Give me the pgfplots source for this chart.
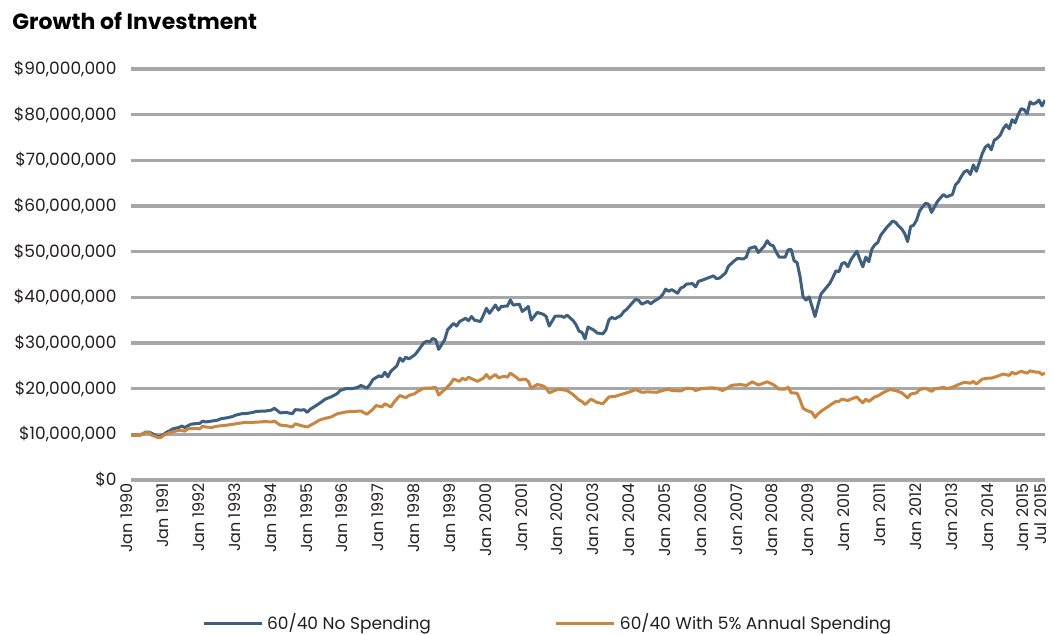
\documentclass[border=0pt]{standalone}
\usepackage{fontspec}
\setmainfont{Poppins}
\usepackage{pgfplots}
\pgfplotsset{compat=1.18}
\usepackage{xcolor}
\definecolor{nospend}{HTML}{3E5F7E}
\definecolor{withspend}{HTML}{C88640}
\definecolor{gridgray}{HTML}{A7A7A9}
\definecolor{labelgray}{HTML}{231F20}

\begin{document}
\begin{tikzpicture}
\useasboundingbox (0,0) rectangle (526pt,317.5pt);
\node[anchor=base west, inner sep=0pt, font=\fontsize{11}{13}\selectfont\bfseries] at (6pt,302.5pt) {Growth of Investment};
\begin{axis}[
    at={(65.5pt,77.5pt)}, anchor=south west,
    scale only axis, width=457pt, height=205.5pt,
    xmin=0, xmax=306, ymin=0, ymax=90,
    axis line style={draw=none},
    major tick length=0pt,
    ytick={0,10,20,30,40,50,60,70,80,90},
    yticklabels={{\$0},{\$10,000,000},{\$20,000,000},{\$30,000,000},{\$40,000,000},{\$50,000,000},{\$60,000,000},{\$70,000,000},{\$80,000,000},{\$90,000,000}},
    yticklabel style={anchor=east, inner sep=0pt, xshift=-7pt, font=\fontsize{8.5}{10}\selectfont, text=labelgray},
    xtick={0,12,24,36,48,60,72,84,96,108,120,132,144,156,168,180,192,204,216,228,240,252,264,276,288,300,306},
    xticklabels={Jan 1990,Jan 1991,Jan 1992,Jan 1993,Jan 1994,Jan 1995,Jan 1996,Jan 1997,Jan 1998,Jan 1999,Jan 2000,Jan 2001,Jan 2002,Jan 2003,Jan 2004,Jan 2005,Jan 2006,Jan 2007,Jan 2008,Jan 2009,Jan 2010,Jan 2011,Jan 2012,Jan 2013,Jan 2014,Jan 2015,Jul 2015},
    xticklabel style={xshift=-2pt, yshift=-1.5pt, rotate=90, anchor=east, inner sep=0pt, font=\fontsize{8}{10}\selectfont, text=labelgray},
    ymajorgrids,
    grid style={gridgray, line width=1.6pt},
    legend style={at={(0.457,-0.348)}, anchor=center, draw=none, fill=none,
        legend columns=2, font=\fontsize{8.5}{10}\selectfont, text=labelgray,
        /tikz/every even column/.append style={column sep=60pt}},
    legend image code/.code={\draw[#1, line width=1.5pt] (0pt,0pt) -- (29pt,0pt);},
    legend cell align={left},
]
\addplot[nospend, line width=1.5pt, line join=round] coordinates {
(0,9.8) (3,9.8) (5,10.5) (6,10.5) (7,10.2) (9,9.5) (10,9.6) (11,10.0) (12,10.5) (13,10.8)
(14,11.2) (16,11.5) (17,11.8) (18,11.5) (20,12.2) (21,12.3) (23,12.4) (24,12.9) (25,12.7) (27,12.9)
(29,13.1) (30,13.4) (32,13.6) (34,13.9) (35,14.2) (37,14.5) (39,14.6) (40,14.7) (42,15.0) (44,15.1)
(45,15.1) (47,15.3) (48,15.7) (49,15.2) (50,14.7) (52,14.8) (54,14.5) (55,15.4) (57,15.3) (58,15.4)
(59,14.8) (60,15.5) (62,16.3) (64,17.2) (65,17.7) (67,18.2) (69,18.9) (70,19.6) (72,20.0) (74,20.0)
(76,20.3) (77,20.7) (79,20.1) (80,20.9) (81,22.0) (83,22.8) (84,22.6) (85,23.6) (86,22.6) (87,23.8)
(89,25.0) (90,26.7) (91,26.0) (92,26.9) (93,26.5) (95,27.4) (96,28.2) (98,30.0) (99,30.4) (100,30.2)
(101,31.0) (102,30.7) (103,28.6) (105,30.7) (106,32.9) (108,34.3) (109,33.7) (110,34.7) (112,35.4) (113,34.9)
(114,35.8) (115,35.0) (117,34.7) (118,36.1) (119,37.6) (120,36.5) (122,38.3) (123,37.2) (124,38.0) (126,38.1)
(127,39.4) (128,38.3) (130,38.5) (131,36.9) (132,37.4) (133,38.0) (134,35.0) (136,36.7) (138,36.3) (139,35.8)
(140,33.7) (142,35.9) (144,35.9) (145,35.6) (146,36.1) (148,34.9) (149,34.0) (150,32.6) (151,32.3) (152,30.9)
(153,33.5) (155,32.8) (156,32.2) (158,32.0) (159,32.9) (160,35.1) (161,35.6) (162,35.3) (164,36.0) (165,36.9)
(166,37.4) (168,38.9) (169,39.6) (170,39.3) (171,38.5) (173,39.1) (174,38.6) (175,39.1) (177,39.9) (178,40.6)
(179,41.8) (180,41.3) (181,41.7) (183,40.9) (184,42.0) (185,42.3) (186,42.9) (188,43.0) (189,42.3) (190,43.5)
(191,43.7) (193,44.2) (195,44.7) (196,44.1) (197,44.2) (199,45.3) (200,46.8) (202,48.0) (203,48.5) (205,48.4)
(206,48.8) (207,50.7) (209,51.1) (210,49.8) (212,51.2) (213,52.4) (214,51.5) (215,51.3) (216,49.9) (217,48.8)
(219,48.8) (220,50.4) (221,50.5) (222,48.0) (223,47.6) (224,44.5) (225,40.1) (226,39.4) (227,40.1) (228,38.0)
(229,35.8) (230,38.3) (231,40.7) (232,41.5) (234,43.1) (235,44.4) (236,45.8) (237,45.6) (238,47.4) (239,47.6)
(240,46.7) (241,48.2) (243,50.1) (244,48.3) (245,46.7) (246,48.8) (247,47.8) (248,50.5) (249,51.5) (250,52.0)
(251,53.6) (253,55.3) (255,56.7) (256,56.4) (257,55.6) (258,55.0) (259,54.0) (260,52.2) (261,55.5) (262,55.8)
(263,56.9) (264,58.9) (265,59.8) (266,60.6) (267,60.4) (268,58.6) (269,59.8) (270,61.0) (271,61.8) (272,62.5)
(273,62.0) (275,62.5) (276,64.6) (277,65.3) (278,66.5) (279,67.5) (280,67.8) (281,66.9) (282,69.0) (283,67.6)
(284,69.5) (285,71.5) (286,72.9) (287,73.4) (288,72.3) (289,74.4) (290,74.8) (291,75.5) (292,76.9) (293,77.8)
(294,76.9) (295,78.9) (296,78.2) (297,80.0) (298,81.3) (299,81.1) (300,80.2) (301,82.8) (302,82.3) (303,82.6)
(304,83.2) (305,81.9) (306,83.2)
};
\addlegendentry{60/40 No Spending}
\addplot[withspend, line width=1.5pt, line join=round] coordinates {
(0,9.8) (3,9.8) (5,10.4) (6,10.4) (7,9.8) (9,9.3) (10,9.3) (11,9.8) (13,10.4) (15,10.7)
(16,10.9) (18,10.7) (19,11.2) (21,11.3) (23,11.2) (24,11.8) (25,11.6) (27,11.5) (29,11.8) (32,12.0)
(34,12.2) (36,12.4) (38,12.6) (40,12.6) (43,12.7) (45,12.8) (47,12.7) (48,12.9) (50,12.0) (52,11.9)
(54,11.6) (55,12.3) (57,11.9) (59,11.6) (61,12.3) (63,13.1) (65,13.5) (67,13.8) (69,14.5) (72,14.9)
(74,15.0) (77,15.1) (79,14.4) (81,15.5) (82,16.3) (84,16.0) (85,16.7) (87,16.0) (88,17.0) (90,18.5)
(92,18.0) (93,18.5) (95,18.9) (96,19.4) (98,20.1) (100,20.1) (102,20.3) (103,18.6) (105,19.8) (107,21.1)
(108,22.1) (110,21.6) (111,22.3) (112,21.9) (113,22.5) (115,21.9) (116,21.6) (118,22.3) (119,23.1) (120,22.2)
(122,23.1) (123,22.4) (125,22.7) (126,22.5) (127,23.4) (129,22.5) (130,21.9) (132,22.1) (133,21.6) (134,20.1)
(136,20.9) (138,20.6) (139,20.1) (140,19.1) (143,19.9) (144,19.8) (146,19.6) (148,18.7) (150,17.5) (151,17.2)
(152,16.5) (154,17.7) (156,17.0) (158,16.7) (160,18.2) (162,18.3) (164,18.7) (167,19.3) (169,19.8) (171,19.2)
(173,19.3) (176,19.2) (178,19.6) (180,19.9) (181,19.6) (184,19.5) (186,20.1) (188,20.0) (189,19.6) (191,20.0)
(194,20.2) (196,20.1) (198,19.6) (199,19.9) (201,20.7) (202,20.8) (204,20.9) (206,20.7) (208,21.5) (210,20.8)
(213,21.5) (215,20.9) (217,19.9) (219,19.9) (220,20.3) (221,19.1) (223,19.0) (224,17.5) (225,15.7) (226,15.3)
(228,14.8) (229,13.7) (230,14.5) (232,15.5) (233,15.9) (235,16.8) (236,17.2) (237,17.2) (238,17.7) (240,17.4)
(241,17.7) (243,18.2) (244,17.5) (245,16.9) (246,17.7) (247,17.2) (249,18.2) (250,18.4) (252,19.2) (254,19.8)
(256,19.6) (258,19.1) (260,18.0) (261,18.8) (263,19.1) (264,19.8) (266,20.1) (268,19.4) (269,19.9) (272,20.3)
(273,20.0) (275,20.3) (277,20.9) (279,21.4) (281,21.2) (282,21.6) (283,21.0) (285,22.1) (287,22.3) (288,22.3)
(290,22.7) (292,23.2) (294,22.9) (295,23.6) (296,23.2) (298,23.8) (300,23.4) (301,23.9) (303,23.6) (304,23.6)
(305,23.1) (306,23.4)
};
\addlegendentry{60/40 With 5\% Annual Spending}
\end{axis}
\end{tikzpicture}
\end{document}
